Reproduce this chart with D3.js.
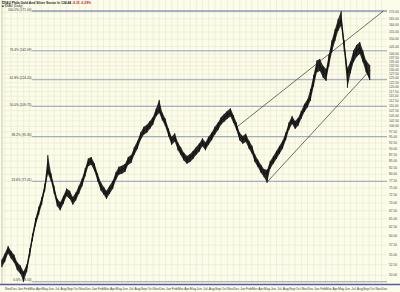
<!DOCTYPE html>
<html><head><meta charset="utf-8">
<script src="https://cdn.jsdelivr.net/npm/d3@7"></script>
<style>html,body{margin:0;padding:0;background:#fcfcea;} svg{display:block;}</style>
</head><body>
<svg id="c" width="400" height="292"></svg>
<script>
// ---- data ----
const titleText = "$XAU Phila Gold And Silver Sector In";
const lastText = "124.44";
const changeText = "-8.35  -6.29%";
const subText = "■ $XAU (Daily)";
const firstSample = "2001-10-16";   // samples every half month
const lastDate = "2006-10-04";
const closes = [52.9,54.2,56.3,55.0,54.0,52.1,51.3,50.0,51.6,55.6,59.6,63.9,67.5,70.7,75.2,81.7,78.9,74.4,70.2,68.9,
 71.0,73.5,72.7,70.7,72.2,74.4,77.1,80.7,84.5,85.1,82.7,78.9,75.6,74.1,72.7,74.4,76.1,79.2,81.3,81.7,
 82.4,85.1,85.9,89.2,91.7,95.4,97.9,98.8,100.7,102.5,106.6,108.4,104.7,101.8,97.2,93.5,95.0,91.1,89.2,86.9,
 85.5,86.3,87.5,89.2,90.6,92.8,91.1,93.5,95.4,97.9,100.0,102.5,104.0,105.4,106.6,103.5,100.0,95.4,93.9,94.8,
 91.7,89.6,86.3,84.2,82.0,80.4,80.2,83.6,85.5,87.5,89.6,91.7,95.4,100.0,103.0,100.7,102.1,105.4,108.9,111.3,
 115.7,123.5,132.2,133.1,128.8,127.0,135.6,145.0,153.0,160.3,164.0,145.3,127.6,131.5,138.5,142.0,144.0,138.5,132.2,124.44];
const highs = [53.8,55.3,57.3,56.0,55.0,53.1,52.3,50.9,52.6,56.7,60.7,65.2,68.8,72.0,76.7,87.5,80.4,75.8,71.5,70.2,
 72.4,74.9,74.1,72.0,73.5,75.8,78.5,82.3,86.1,86.7,84.2,80.4,77.1,75.4,74.1,75.8,77.6,80.7,82.8,83.2,
 84.0,86.7,87.5,90.8,93.5,97.2,99.8,100.7,102.5,104.4,108.7,113.1,106.6,103.7,99.0,95.2,96.8,92.8,90.8,88.5,
 87.1,87.9,89.2,90.8,92.4,94.6,92.8,95.2,97.2,99.8,101.8,104.4,105.9,107.4,108.7,105.4,101.8,97.2,95.6,96.6,
 93.5,91.3,87.9,85.7,83.6,81.9,81.7,85.1,87.1,89.2,91.3,93.5,97.2,101.8,104.9,102.5,104.0,107.4,111.0,113.4,
 119.0,127.0,135.9,136.8,132.5,130.6,139.4,149.2,157.3,164.8,171.0,149.5,131.2,135.3,142.4,146.0,148.1,142.4,135.9,133.0];
const lows = [51.9,53.2,55.3,54.0,53.0,51.2,50.3,48.5,50.7,54.6,58.6,62.8,66.2,69.4,73.9,80.2,77.4,73.0,68.9,67.6,
 69.7,72.2,71.3,69.4,70.8,73.0,75.6,79.2,83.0,83.6,81.1,77.4,74.2,72.7,71.3,73.0,74.7,77.8,79.8,80.2,
 80.9,83.6,84.3,87.5,90.0,93.7,96.1,97.0,98.8,100.7,104.7,106.4,102.8,100.0,95.4,91.7,93.2,89.4,87.5,85.3,
 84.0,84.7,85.9,87.5,88.9,91.1,89.4,91.7,93.7,96.1,98.2,100.7,102.1,103.5,104.7,101.6,98.2,93.7,92.2,93.0,
 90.0,87.9,84.7,82.7,80.5,78.9,76.9,82.0,84.0,85.9,87.9,90.0,93.7,98.2,101.1,98.8,100.2,103.5,106.9,109.2,
 112.6,120.2,128.5,129.4,125.3,123.5,131.9,141.0,148.8,155.9,159.6,141.4,119.6,127.9,134.7,138.1,140.0,134.7,128.5,124.0];
const fibPct = [0, 23.6, 38.2, 50, 61.8, 76.4, 100];
const yTicks = [50,52.5,55,57.5,60,62.5,65,67.5,70,72.5,75,77.5,80,82.5,85,87.5,90,92.5,95,97.5,100,102.5,105,107.5,110,112.5,115,117.5,120,122.5,125,127.5,130,132.5,135,137.5,140,145,150,155,160,165,170];
const xDomain = ["2001-10-17","2006-12-28"];
const yDomain = [48, 180];
const channelUpper = [["2004-12-13",99.3],["2006-12-10",171]];
const channelLower = [["2005-05-13",76.9],["2006-10-07",130]];

// ---- layout ----
const W=400,H=292, L=2, R=387, T=0, B=284;
const FONT="Liberation Sans, Arial, sans-serif";
const svg=d3.select("#c");
const parse=d3.timeParse("%Y-%m-%d");
const x=d3.scaleTime().domain(xDomain.map(parse)).range([L,R]);
const y=d3.scaleLog().domain(yDomain).range([B,T]);
const s0=parse(firstSample);
const dates=closes.map((d,i)=>{
  if(i===closes.length-1) return parse(lastDate);
  const m=d3.timeMonth.offset(s0, Math.floor(i/2));
  return i%2===0 ? m : d3.timeDay.offset(m, 15);
});
const fibLow=d3.min(lows), fibHigh=d3.max(highs);

svg.append("rect").attr("x",0).attr("y",0).attr("width",W).attr("height",H).attr("fill","#fcfcea");
// grid
const months=d3.timeMonth.range(x.domain()[0], x.domain()[1]);
svg.append("g").selectAll("line").data(months).join("line")
 .attr("x1",d=>x(d)).attr("x2",d=>x(d)).attr("y1",T).attr("y2",B)
 .attr("stroke","#e8e8cc").attr("stroke-width",0.6);
svg.append("g").selectAll("line").data(yTicks).join("line")
 .attr("x1",L).attr("x2",R).attr("y1",d=>y(d)).attr("y2",d=>y(d))
 .attr("stroke","#e8e8cc").attr("stroke-width",0.6);
svg.append("line").attr("x1",L).attr("x2",L).attr("y1",T).attr("y2",B).attr("stroke","#c8c8b0");

// fib lines
const fibX0 = 32;
fibPct.forEach(p=>{
  const v=fibLow+(fibHigh-fibLow)*p/100;
  svg.append("line").attr("x1",fibX0).attr("x2",R).attr("y1",y(v)).attr("y2",y(v))
   .attr("stroke", p===100?"#5868a8":"#8a96b4").attr("stroke-width",p===100?1.1:0.9);
  svg.append("text").attr("x",fibX0-0.5).attr("y",y(v)-0.3).attr("text-anchor","end")
   .attr("font-size",3.2).attr("font-family",FONT).attr("fill","#333")
   .text(p.toFixed(1)+"% ("+v.toFixed(2)+")");
});
// channel
[channelUpper, channelLower].forEach(c=>{
  svg.append("line").attr("x1",x(parse(c[0][0]))).attr("y1",y(c[0][1]))
   .attr("x2",x(parse(c[1][0]))).attr("y2",y(c[1][1])).attr("stroke","#333").attr("stroke-width",0.7);
});
// price: high-low band, bars and close line
const g=svg.append("g");
g.append("path").datum(closes).attr("fill","#151515").attr("opacity",0.9)
 .attr("d",d3.area().x((d,i)=>x(dates[i])).y0((d,i)=>y(lows[i])).y1((d,i)=>y(highs[i])));
g.selectAll("line").data(highs).join("line")
 .attr("x1",(d,i)=>x(dates[i])).attr("x2",(d,i)=>x(dates[i]))
 .attr("y1",d=>y(d)).attr("y2",(d,i)=>y(lows[i]))
 .attr("stroke","#111").attr("stroke-width",0.9);
g.append("path").datum(closes).attr("fill","none").attr("stroke","#111").attr("stroke-width",1)
 .attr("d",d3.line().x((d,i)=>x(dates[i])).y(d=>y(d)));

// bottom axis
svg.append("line").attr("x1",0).attr("x2",W).attr("y1",B+0.5).attr("y2",B+0.5).attr("stroke","#5a5aa0").attr("stroke-width",1.5);
const fmt=d3.timeFormat("%b");
svg.append("g").selectAll("text").data(months.filter(d=>x(d)>0)).join("text")
 .attr("x",d=>x(d)+3).attr("y",289.5).attr("text-anchor","middle")
 .attr("font-size",3.4).attr("font-family",FONT).attr("fill","#444").text(fmt);
// right axis
svg.append("g").selectAll("text").data(yTicks).join("text")
 .attr("x",389).attr("y",d=>y(d)+1.1).attr("font-size",3.2).attr("font-family",FONT)
 .attr("fill","#444").text(d=>d.toFixed(2));
// title
const t=svg.append("text").attr("x",2).attr("y",3.6).attr("font-size",3.3).attr("font-family",FONT).attr("font-weight","bold");
t.append("tspan").attr("fill","#222").text(titleText+"  ");
t.append("tspan").attr("fill","#222").text(lastText+"  ");
t.append("tspan").attr("fill","#d02020").text(changeText);
svg.append("text").attr("x",2).attr("y",7.3).attr("font-size",3.1).attr("font-family",FONT).attr("fill","#222").text(subText);
</script>
</body></html>
